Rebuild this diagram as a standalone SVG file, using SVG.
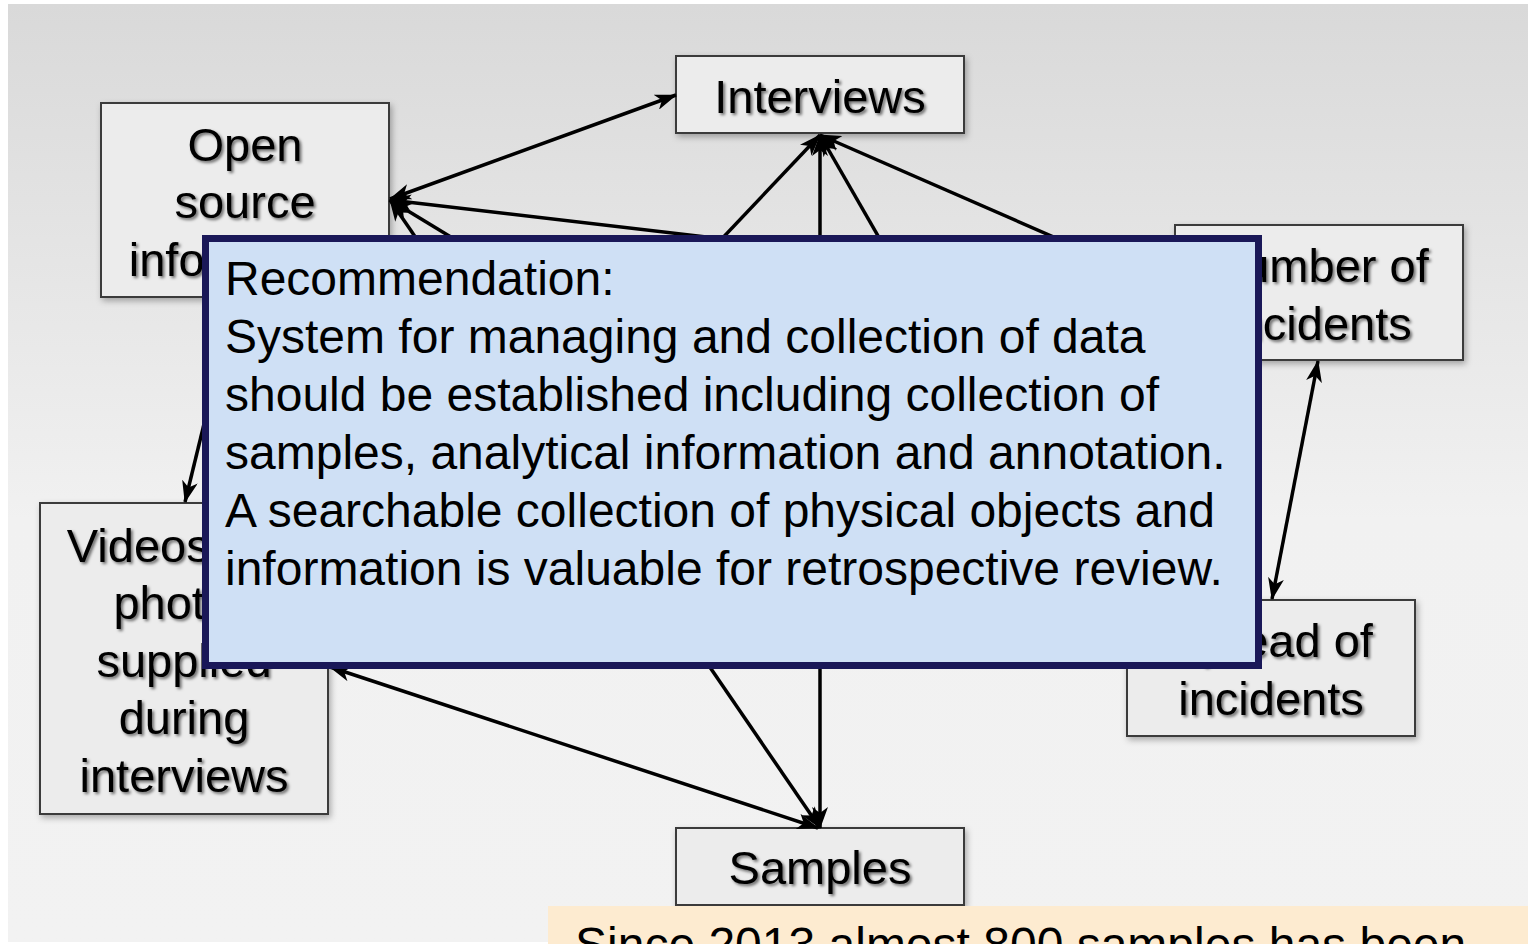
<svg xmlns="http://www.w3.org/2000/svg" width="1528" height="944" viewBox="0 0 1528 944">
<defs>
<linearGradient id="bg" x1="0" y1="0" x2="0" y2="1">
<stop offset="0" stop-color="#d9d9d9"/>
<stop offset="0.55" stop-color="#f1f1f1"/>
<stop offset="1" stop-color="#f2f2f2"/>
</linearGradient>
<filter id="tsh" x="-10%" y="-20%" width="130%" height="160%">
<feDropShadow dx="2" dy="2" stdDeviation="1.6" flood-color="#000" flood-opacity="0.55"/>
</filter>
<filter id="bsh" x="-10%" y="-10%" width="130%" height="130%">
<feDropShadow dx="2" dy="3" stdDeviation="3" flood-color="#000" flood-opacity="0.3"/>
</filter>
<marker id="ah" viewBox="0 0 22 16" refX="21" refY="8" markerWidth="22" markerHeight="16" markerUnits="userSpaceOnUse" orient="auto-start-reverse">
<path d="M0,0 L22,8 L0,16 L6,8 z" fill="#000"/>
</marker>
<style>
.box{fill:#ececec;stroke:#3a3a3a;stroke-width:2;filter:url(#bsh)}
.nt{font-family:"Liberation Sans",Arial,sans-serif;font-size:47px;fill:#000;text-anchor:middle;filter:url(#tsh)}
.cn{stroke:#000;stroke-width:3.5;fill:none;marker-start:url(#ah);marker-end:url(#ah)}
.rt{font-family:"Liberation Sans",Arial,sans-serif;font-size:48px;fill:#000}
</style>
</defs>
<rect x="0" y="0" width="1528" height="944" fill="#fff"/>
<rect x="8" y="4" width="1520" height="938" fill="url(#bg)"/>

<g id="node-open-source">
<rect class="box" x="101" y="103" width="288" height="194"/>
<text class="nt" x="245" y="161">Open</text>
<text class="nt" x="245" y="218">source</text>
<text class="nt" x="245" y="276">information</text>
</g>
<g id="node-interviews">
<rect class="box" x="676" y="56" width="288" height="77"/>
<text class="nt" x="820" y="113">Interviews</text>
</g>
<g id="node-number">
<rect class="box" x="1175" y="225" width="288" height="135"/>
<text class="nt" x="1319" y="282">Number of</text>
<text class="nt" x="1319" y="340">incidents</text>
</g>
<g id="node-spread">
<rect class="box" x="1127" y="600" width="288" height="136"/>
<text class="nt" x="1271" y="657">Spread of</text>
<text class="nt" x="1271" y="715">incidents</text>
</g>
<g id="node-videos">
<rect class="box" x="40" y="503" width="288" height="311"/>
<text class="nt" x="184" y="562">Videos and</text>
<text class="nt" x="184" y="619">photos</text>
<text class="nt" x="184" y="677">supplied</text>
<text class="nt" x="184" y="734">during</text>
<text class="nt" x="184" y="792">interviews</text>
</g>
<g id="node-samples">
<rect class="box" x="676" y="828" width="288" height="77"/>
<text class="nt" x="820" y="884">Samples</text>
</g>

<g id="connectors">
<line class="cn" x1="390" y1="199" x2="676" y2="95"/>
<line class="cn" x1="390" y1="200" x2="1175" y2="292"/>
<line class="cn" x1="390" y1="200" x2="820" y2="828"/>
<line class="cn" x1="390" y1="200" x2="1127" y2="648"/>
<line class="cn" x1="235" y1="297" x2="185" y2="502" style="marker-start:none"/>
<line class="cn" x1="820" y1="135" x2="328" y2="655"/>
<line class="cn" x1="820" y1="135" x2="820" y2="828"/>
<line class="cn" x1="820" y1="135" x2="1030" y2="500"/>
<line class="cn" x1="820" y1="135" x2="1175" y2="290"/>
<line class="cn" x1="330" y1="667" x2="818" y2="828"/>
<line class="cn" x1="1318" y1="361" x2="1272" y2="599"/>
</g>

<g id="recommendation">
<rect x="205.5" y="238.5" width="1053" height="427" fill="#cfe0f5" stroke="#1a1858" stroke-width="7"/>
<text class="rt" x="225" y="295">Recommendation:</text>
<text class="rt" x="225" y="353">System for managing and collection of data</text>
<text class="rt" x="225" y="411">should be established including collection of</text>
<text class="rt" x="225" y="469">samples, analytical information and annotation.</text>
<text class="rt" x="225" y="527">A searchable collection of physical objects and</text>
<text class="rt" x="225" y="585">information is valuable for retrospective review.</text>
</g>

<g id="note">
<rect x="548" y="906" width="980" height="38" fill="#fdebd0"/>
<text class="rt" x="575" y="961">Since 2013 almost 800 samples has been</text>
</g>
</svg>
